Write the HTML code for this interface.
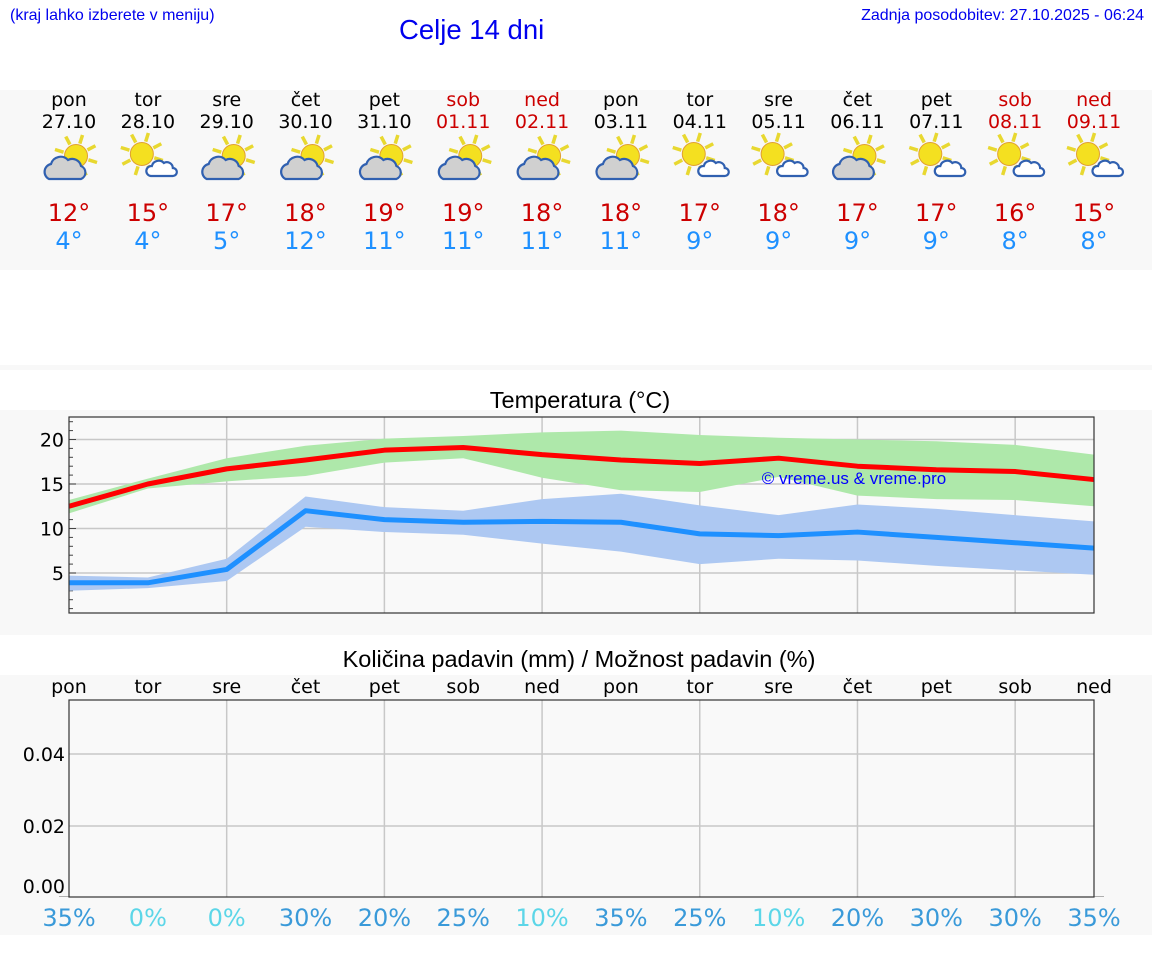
<!DOCTYPE html>
<html><head><meta charset="utf-8">
<style>
body{margin:0;width:1152px;height:975px;background:#fff;font-family:"DejaVu Sans","Liberation Sans",sans-serif;position:relative;overflow:hidden}
.abs{position:absolute}
.band{position:absolute;left:0;width:1152px;background:#f8f8f8}
.day{position:absolute;width:80px;text-align:center;font-size:19px;line-height:22px}
</style></head><body>
<div class="abs" style="left:10px;top:7px;font:16px 'Liberation Sans',sans-serif;color:#0000ee">(kraj lahko izberete v meniju)</div>
<div class="abs" style="left:399px;top:14px;font:27.5px 'Liberation Sans',sans-serif;color:#0000ee">Celje 14 dni</div>
<div class="abs" style="right:8px;top:7px;font:16px 'Liberation Sans',sans-serif;color:#0000ee">Zadnja posodobitev: 27.10.2025 - 06:24</div>
<div class="band" style="top:90px;height:180px"></div>
<div class="band" style="top:365px;height:5px"></div>
<div class="band" style="top:410px;height:225px"></div>
<div class="band" style="top:675px;height:260px"></div>
<div id="days"></div>
<svg id="charts" class="abs" style="left:0;top:0" width="1152" height="975"></svg>
<script>
const dayNames=["pon","tor","sre","čet","pet","sob","ned","pon","tor","sre","čet","pet","sob","ned"];
const dates=["27.10","28.10","29.10","30.10","31.10","01.11","02.11","03.11","04.11","05.11","06.11","07.11","08.11","09.11"];
const hiTemps=[12,15,17,18,19,19,18,18,17,18,17,17,16,15];
const loTemps=[4,4,5,12,11,11,11,11,9,9,9,9,8,8];
const iconType=[1,0,1,1,1,1,1,1,0,0,1,0,0,0];
const maxLine=[12.5,15,16.7,17.7,18.8,19.1,18.3,17.7,17.3,17.9,17.0,16.6,16.4,15.5];
const maxUp=[13.2,15.6,17.9,19.3,20.1,20.4,20.8,21.0,20.5,20.2,20.0,19.8,19.4,18.3];
const maxLo=[11.7,14.5,15.3,15.9,17.4,17.9,15.7,14.3,14.1,15.8,13.7,13.3,13.2,12.5];
const minLine=[3.9,3.9,5.4,12.0,11.0,10.7,10.8,10.7,9.4,9.2,9.6,9.0,8.4,7.8];
const minUp=[4.7,4.5,6.6,13.6,12.4,12.0,13.3,13.9,12.6,11.5,12.7,12.2,11.5,10.8];
const minLo=[3.0,3.3,4.1,10.2,9.6,9.3,8.3,7.4,6.0,6.6,6.4,5.8,5.3,4.8];
const tempTicks=[5,10,15,20];
const precipVals=[0,0,0,0,0,0,0,0,0,0,0,0,0,0];
const precipTicks=[0,0.02,0.04];
const precipProb=[35,0,0,30,20,25,10,35,25,10,20,30,30,35];

const NS="http://www.w3.org/2000/svg";
const svg=document.getElementById('charts');
function el(tag,attrs,parent){const e=document.createElementNS(NS,tag);for(const k in attrs)e.setAttribute(k,attrs[k]);(parent||svg).appendChild(e);return e;}
const X0=69,X1=1094,n=dayNames.length;
const xs=i=>X0+(X1-X0)*i/(n-1);
const yT=v=>617.5-v*8.9;
const yP=v=>898-v*3600;

const daysDiv=document.getElementById('days');
for(let i=0;i<n;i++){
  const cx=xs(i);const red=(i%7>=5);
  const d=document.createElement('div');d.className='day';
  
  
  d.style.left=(cx-40)+'px';d.style.top='89px';
  d.style.color=red?'#cc0000':'#000';
  d.innerHTML=dayNames[i]+'<br>'+dates[i];
  daysDiv.appendChild(d);
  const t=document.createElement('div');t.className='day';
  
  
  t.style.left=(cx-40)+'px';t.style.top='199px';t.style.fontSize='24px';t.style.lineHeight='28px';
  t.innerHTML='<span style="color:#cc0000">'+hiTemps[i]+'°</span><br><span style="color:#1e90ff">'+loTemps[i]+'°</span>';
  daysDiv.appendChild(t);
  const g=el('g',{transform:'translate('+(cx-27)+',134)'});
  
  
  const sx=iconType[i]?34:21,sy=iconType[i]?22:20;
  for(let a=0;a<8;a++){const an=a*Math.PI/4+0.3;el('line',{x1:sx+Math.cos(an)*13,y1:sy+Math.sin(an)*13,x2:sx+Math.cos(an)*22,y2:sy+Math.sin(an)*22,stroke:'#e8d830','stroke-width':3.5},g);}
  el('circle',{cx:sx,cy:sy,r:11.5,fill:'#f4e020',stroke:'#e0a030','stroke-width':1},g);
  if(iconType[i]){
    el('path',{d:'M7,45 a8,8 0 0 1 2,-15 a10,10 0 0 1 17,-4 a9,9 0 0 1 13,6 a7,7 0 0 1 0,13 z',fill:'#d0d0d0',stroke:'#3060b0','stroke-width':2.2},g);
  }else{
    el('path',{d:'M30,42 a5,5 0 0 1 1,-10 a7,7 0 0 1 12,-3 a6,6 0 0 1 9,5 a4,4 0 0 1 0,8 z',fill:'#fff',stroke:'#3060b0','stroke-width':2.2},g);
  }
}

el('text',{x:580,y:408,'text-anchor':'middle','font-size':23.5,'font-family':'Liberation Sans, sans-serif',fill:'#000'}).textContent='Temperatura (°C)';
el('rect',{x:X0,y:417,width:X1-X0,height:196,fill:'#f9f9f9'});
for(let i=2;i<n-1;i+=2)el('line',{x1:xs(i),y1:417,x2:xs(i),y2:613,stroke:'#c8c8c8','stroke-width':1.5});
tempTicks.forEach(v=>{el('line',{x1:X0,y1:yT(v),x2:X1,y2:yT(v),stroke:'#c8c8c8','stroke-width':1.5});
  const t=el('text',{x:X0-5,y:yT(v)+7,'text-anchor':'end','font-size':19,fill:'#000'});t.textContent=v;
  });
for(let v=1;v<=22;v++)el('line',{x1:X0,y1:yT(v),x2:X0+(v%5?4:7),y2:yT(v),stroke:'#444','stroke-width':1});
function band(up,lo,col,name){let d='M'+up.map((v,i)=>xs(i)+','+yT(v)).join('L')+'L'+lo.map((v,i)=>xs(i)+','+yT(v)).reverse().join('L')+'Z';
  const p=el('path',{d:d,fill:col});}
band(maxUp,maxLo,'#aee8aa','max-temp-range');
band(minUp,minLo,'#adc8f2','min-temp-range');
const l1=el('polyline',{points:maxLine.map((v,i)=>xs(i)+','+yT(v)).join(' '),fill:'none',stroke:'#ff0000','stroke-width':5,'stroke-linejoin':'round'});

const l2=el('polyline',{points:minLine.map((v,i)=>xs(i)+','+yT(v)).join(' '),fill:'none',stroke:'#1e90ff','stroke-width':5,'stroke-linejoin':'round'});

el('text',{x:854,y:484,'text-anchor':'middle','font-size':17,'font-family':'Liberation Sans, sans-serif',fill:'#0000ff'}).textContent='© vreme.us & vreme.pro';
el('rect',{x:X0,y:417,width:X1-X0,height:196,fill:'none',stroke:'#333','stroke-width':1.2});

el('text',{x:579,y:667,'text-anchor':'middle','font-size':23.5,'font-family':'Liberation Sans, sans-serif',fill:'#000'}).textContent='Količina padavin (mm) / Možnost padavin (%)';
el('rect',{x:X0,y:700,width:X1-X0,height:197,fill:'#f9f9f9'});
for(let i=2;i<n-1;i+=2)el('line',{x1:xs(i),y1:700,x2:xs(i),y2:897,stroke:'#c8c8c8','stroke-width':1.5});
precipTicks.forEach(v=>{if(v>0)el('line',{x1:X0,y1:yP(v),x2:X1,y2:yP(v),stroke:'#c8c8c8','stroke-width':1.5});
  const t=el('text',{x:X0-4,y:Math.min(yP(v),886)+7,'text-anchor':'end','font-size':19,fill:'#000'});t.textContent=v.toFixed(2);
  });
for(let i=0;i<n;i++){
  const b=el('rect',{x:xs(i)-10,y:yP(precipVals[i])-1.5,width:20,height:1.5+(898-yP(precipVals[i]))-1,fill:'#666'});
  
  const t=el('text',{x:xs(i),y:693,'text-anchor':'middle','font-size':19,fill:'#000'});t.textContent=dayNames[i];
  
  const p=el('text',{x:xs(i),y:926,'text-anchor':'middle','font-size':24,fill:precipProb[i]>10?'#3a9ad9':'#5cd6e8'});p.textContent=precipProb[i]+'%';
  
}
el('rect',{x:X0,y:700,width:X1-X0,height:197,fill:'none',stroke:'#333','stroke-width':1.2});
</script>
</body></html>
